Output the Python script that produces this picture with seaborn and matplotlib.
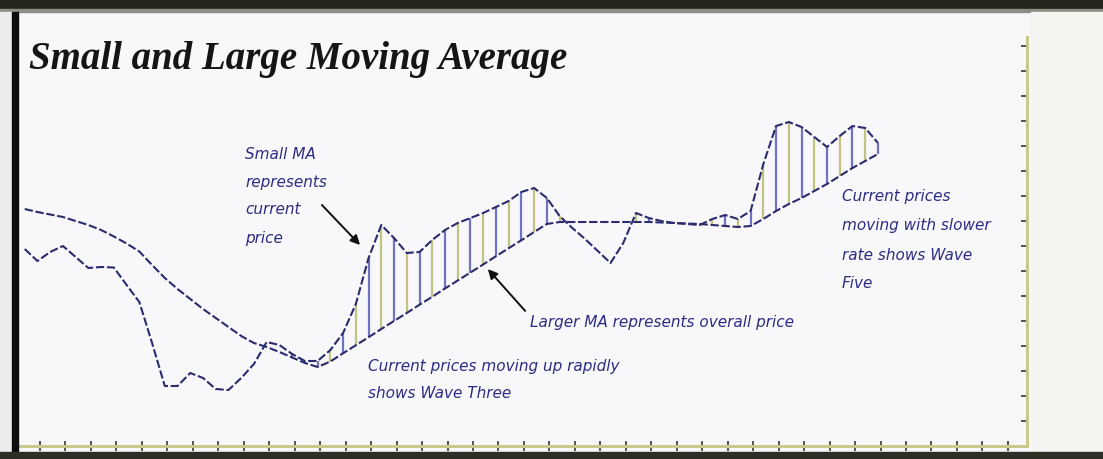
import numpy as np
import pandas as pd
import matplotlib
matplotlib.use("Agg")
import matplotlib.pyplot as plt
from matplotlib.patches import Rectangle
import seaborn as sns

# ---------------- data ----------------
day = np.arange(68) * 0.5 - 0.6

large_ma = [9.48, 9.36, 9.26, 9.16, 9.00, 8.84, 8.64, 8.38, 8.10, 7.78,
            7.24, 6.72, 6.28, 5.88, 5.48, 5.12, 4.76, 4.40, 4.12, 3.96,
            3.76, 3.54, 3.32, 3.16, 3.38, 3.71, 4.03, 4.35, 4.68, 5.00,
            5.32, 5.65, 5.97, 6.30, 6.62, 6.94, 7.26, 7.59, 7.91, 8.23,
            8.56, 8.88, 8.96, 8.96, 8.96, 8.96, 8.96, 8.96, 8.96, 8.96,
            8.94, 8.92, 8.90, 8.88, 8.84, 8.80, 8.76, 8.80, 9.08, 9.40,
            9.68, 9.92, 10.20, 10.48, 10.80, 11.12, 11.40, 11.68]

small_ma = [7.88, 7.40, 7.76, 8.00, 7.56, 7.12, 7.16, 7.14, 6.44, 5.76,
            4.12, 2.40, 2.40, 2.92, 2.72, 2.28, 2.24, 2.72, 3.28, 4.16,
            4.04, 3.68, 3.40, 3.40, 3.84, 4.52, 5.68, 7.52, 8.84, 8.32,
            7.72, 7.76, 8.24, 8.64, 8.92, 9.12, 9.32, 9.56, 9.80, 10.16,
            10.32, 9.92, 9.20, 8.72, 8.28, 7.80, 7.32, 8.12, 9.32, 9.12,
            9.00, 8.92, 8.88, 8.84, 9.08, 9.24, 9.08, 9.40, 11.28, 12.80,
            12.96, 12.76, 12.36, 11.96, 12.40, 12.80, 12.72, 12.12]

title = "Small and Large Moving Average"
note_small = ["Small MA", "represents", "current", "price"]
note_large = "Larger MA represents overall price"
note_wave3 = ["Current prices moving up rapidly", "shows Wave Three"]
note_wave5 = ["Current prices", "moving with slower", "rate shows Wave", "Five"]

# ---------------- figure ----------------
W, H = 1103, 459
sns.set_style("white")
plt.rcParams["font.family"] = ["DejaVu Sans"]

BG = "#f8f8fb"
fig = plt.figure(figsize=(W / 100, H / 100), dpi=100, facecolor=BG)


def fp(x, y):
    """top-left pixel -> figure fraction"""
    return x / W, 1 - y / H


def frect(x0, y0, x1, y1, color, z=0):
    fig.patches.append(Rectangle((x0 / W, 1 - y1 / H), (x1 - x0) / W, (y1 - y0) / H,
                                 transform=fig.transFigure, color=color, zorder=z))


frect(0, 0, W, 9, "#25251b")
frect(0, 9, W, 12, "#8d8d86")
frect(0, 12, 12, H, "#ececec")
frect(12, 12, 18, H, "#0d0d0d")
frect(1031, 12, W, 452, "#f4f4f1")
frect(0, 452, W, H, "#2e2e26")

ax = fig.add_axes([18 / W, (H - 446) / H, (1027 - 18) / W, (446 - 37) / H])
ax.set_facecolor(BG)
ax.set_xlim((18 - 40) / 25.47, (1027 - 40) / 25.47)
ax.set_ylim(0, (446 - 37) / 25)

df = pd.DataFrame({"day": day, "large": large_ma, "small": small_ma})

# hatching between the averages (where the small MA is above the large MA)
sub = df.iloc[21:].reset_index(drop=True)
sub["col"] = ["#7272c4" if i % 2 == 0 else "#c2c282" for i in range(len(sub))]
sub = sub[sub["small"] > sub["large"]]
ax.vlines(sub["day"], sub["large"], sub["small"], colors=list(sub["col"]),
          linewidth=1.6, zorder=1)

line_col = "#2b2b6e"
sns.lineplot(data=df, x="day", y="large", ax=ax, color=line_col, linewidth=1.5, zorder=3)
sns.lineplot(data=df, x="day", y="small", ax=ax, color=line_col, linewidth=1.5, zorder=3)
for ln in ax.lines:
    ln.set_dashes([4, 1.3])

ax.set_xlabel("")
ax.set_ylabel("")
ax.set_xticks(np.arange(39))
ax.set_yticks(np.arange(17))
ax.yaxis.tick_right()
ax.tick_params(axis="x", direction="inout", length=7, width=1.2, color="#3a3a2a",
               labelbottom=False, bottom=True)
ax.tick_params(axis="y", direction="in", length=4, width=1.2, color="#3a3a2a",
               labelright=False, labelleft=False, right=True, left=False)
for s in ("left", "top"):
    ax.spines[s].set_visible(False)
for s in ("right", "bottom"):
    ax.spines[s].set_color("#c9c98c")
    ax.spines[s].set_linewidth(2.2)

# title
fig.text(*fp(29, 69), title, fontsize=28, fontweight="bold", fontstyle="italic",
         family=["Liberation Serif", "DejaVu Serif"], color="#151515", va="baseline", ha="left")

txt_col = "#2c2c82"
tkw = dict(fontsize=11, fontstyle="italic", color=txt_col, va="center", ha="left")
for t, y in zip(note_small, [154, 182, 210, 238]):
    fig.text(*fp(245, y), t, **tkw)
fig.text(*fp(530, 323), note_large, **tkw)
for t, y in zip(note_wave3, [367, 393]):
    fig.text(*fp(368, y), t, **tkw)
for t, y in zip(note_wave5, [197, 226, 255, 283]):
    fig.text(*fp(842, y), t, **tkw)

# arrows
akw = dict(arrowstyle="-|>", color="#111111", lw=1.4, mutation_scale=14)
ax.annotate("", xy=(362, H - 247), xycoords="figure pixels",
            xytext=(320, H - 203), textcoords="figure pixels", arrowprops=akw)
ax.annotate("", xy=(486, H - 267), xycoords="figure pixels",
            xytext=(527, H - 313), textcoords="figure pixels", arrowprops=akw)

fig.savefig("out.png", dpi=100, facecolor=fig.get_facecolor())
